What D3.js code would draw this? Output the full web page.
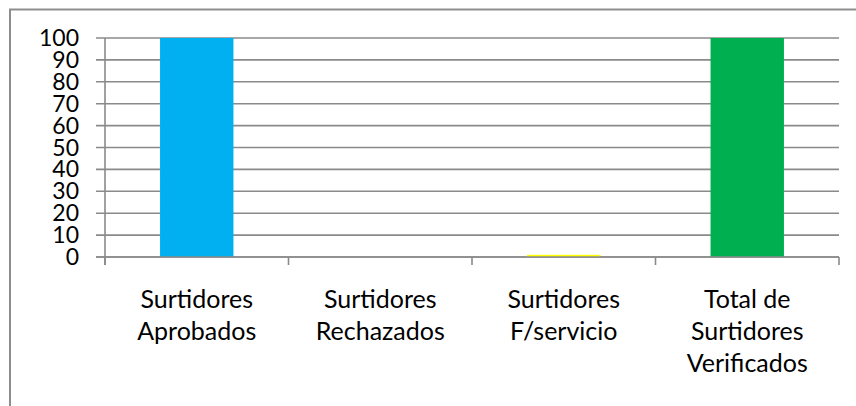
<!DOCTYPE html>
<html>
<head>
<meta charset="utf-8">
<script src="https://cdn.jsdelivr.net/npm/d3@7"></script>
<style>
  html, body { margin: 0; padding: 0; background: #fff; }
  svg { display: block; }
  text { font-family: Lato, "Open Sans", sans-serif; fill: #000; }
</style>
</head>
<body>
<svg id="chart" width="856" height="406"></svg>
<script>
const categories = [
  ["Surtidores", "Aprobados"],
  ["Surtidores", "Rechazados"],
  ["Surtidores", "F/servicio"],
  ["Total de", "Surtidores", "Verificados"]
];
const values = [100, 0, 1, 100];
const barColors = ["#00B0F0", "#C0504D", "#FFFF00", "#00B050"];
const yTicks = [0, 10, 20, 30, 40, 50, 60, 70, 80, 90, 100];

(function () {
const svg = d3.select("#chart");
const pLeft = 105, pRight = 839, pTop = 38, pBottom = 257;
const gridColor = "#8a8a8a";

// outer frame
svg.append("rect")
  .attr("x", 10).attr("y", 9.5)
  .attr("width", 900).attr("height", 500)
  .attr("fill", "none").attr("stroke", "#8d8d8d").attr("stroke-width", 2);

const x = d3.scaleBand()
  .domain(d3.range(categories.length))
  .range([pLeft, pRight])
  .paddingInner(0.6).paddingOuter(0.3);

const y = d3.scaleLinear().domain([0, 100]).range([pBottom, pTop]);

// gridlines
svg.append("g").selectAll("line").data(yTicks).join("line")
  .attr("x1", pLeft - 9).attr("x2", pRight)
  .attr("y1", d => y(d)).attr("y2", d => y(d))
  .attr("stroke", gridColor).attr("stroke-width", 1.6);

// bars
svg.append("g").selectAll("rect").data(values).join("rect")
  .attr("x", (d, i) => x(i))
  .attr("width", x.bandwidth())
  .attr("y", d => y(d))
  .attr("height", d => pBottom - y(d))
  .attr("fill", (d, i) => barColors[i]);

// axis lines
svg.append("line")
  .attr("x1", pLeft).attr("x2", pLeft)
  .attr("y1", pTop).attr("y2", pBottom + 8)
  .attr("stroke", gridColor).attr("stroke-width", 1.6);
svg.append("line")
  .attr("x1", pLeft - 9).attr("x2", pRight)
  .attr("y1", pBottom).attr("y2", pBottom)
  .attr("stroke", gridColor).attr("stroke-width", 1.6);

// category ticks at band boundaries
const step = x.step();
svg.append("g").selectAll("line").data(d3.range(categories.length + 1)).join("line")
  .attr("x1", i => pLeft + i * step).attr("x2", i => pLeft + i * step)
  .attr("y1", pBottom).attr("y2", pBottom + 8)
  .attr("stroke", gridColor).attr("stroke-width", 1.6);

// y labels
svg.append("g").selectAll("text").data(yTicks).join("text")
  .attr("x", 79).attr("y", d => y(d) + 8)
  .attr("text-anchor", "end")
  .attr("font-size", 23)
  .text(d => d);

// category labels
const lab = svg.append("g").selectAll("text").data(categories).join("text")
  .attr("text-anchor", "middle")
  .attr("font-size", 25)
  .attr("x", (d, i) => x(i) + x.bandwidth() / 2)
  .attr("y", 308);
lab.selectAll("tspan").data(d => d).join("tspan")
  .attr("x", function () { return this.parentNode.getAttribute("x"); })
  .attr("dy", (d, j) => j === 0 ? 0 : 32)
  .text(d => d);
})();
</script>
</body>
</html>
